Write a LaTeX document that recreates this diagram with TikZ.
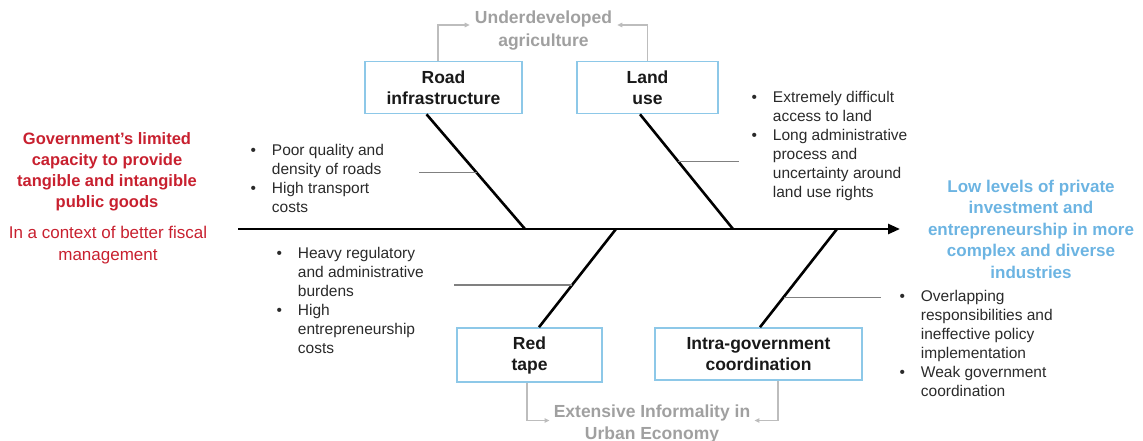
\documentclass[tikz,border=0pt]{standalone}
\usepackage{fontspec}
\setmainfont{Liberation Sans}
\usetikzlibrary{arrows.meta}
\definecolor{govred}{HTML}{C8202F}
\definecolor{outblue}{HTML}{6CB4E2}
\definecolor{boxblue}{HTML}{8DC8E8}
\definecolor{linkgray}{HTML}{BDBDBD}
\definecolor{txtgray}{HTML}{A0A0A0}
\definecolor{bulgray}{HTML}{2A2A2A}
\newcommand{\bulletlist}[1]{\begin{tabular}{@{}l@{\hspace{16pt}}l@{}}#1\end{tabular}}
\begin{document}
\begin{tikzpicture}[x=1pt,y=-1pt,
  cause/.style={draw=boxblue, line width=1.6pt, fill=white, align=center, inner sep=0pt, minimum height=52pt, font=\fontsize{17.5}{21}\selectfont\bfseries, text=black!90},
  bone/.style={line width=2.6pt},
  twig/.style={draw=gray, line width=1.1pt},
  link/.style={draw=linkgray, line width=1.2pt, -{Triangle[length=5pt,width=4.5pt]}},
  effect/.style={align=center, inner sep=0pt, font=\fontsize{17.5}{23}\selectfont\bfseries, text=txtgray},
  bullets/.style={anchor=north west, inner sep=0pt, font=\fontsize{15.5}{19}\selectfont, text=bulgray}]
\useasboundingbox (0,0) rectangle (1143,441);
\coordinate (tail) at (238,229);
\coordinate (head) at (900,229);
\draw[line width=2.6pt, -{Triangle[length=12pt,width=10pt]}] (tail) -- (head);
\node[cause, minimum width=157pt] (road) at (443.5,87.5) {Road\\infrastructure};
\node[cause, minimum width=141pt] (land) at (647.5,87.5) {Land\\use};
\node[cause, minimum width=145pt, minimum height=54pt] (redtape) at (529.5,355) {Red\\tape};
\node[cause, minimum width=207pt] (intra) at (758.5,354) {Intra-government\\coordination};
\coordinate (jroad) at (525,229);
\coordinate (jland) at (733,229);
\coordinate (jred) at (616,229);
\coordinate (jintra) at (837,229);
\draw[bone] ([xshift=-17pt]road.south) -- coordinate[pos=0.51] (troad) (jroad);
\draw[bone] ([xshift=-7.5pt]land.south) -- coordinate[pos=0.41] (tland) (jland);
\draw[bone] ([xshift=9.5pt]redtape.north) -- coordinate[pos=0.43] (tred) (jred);
\draw[bone] ([xshift=1.5pt]intra.north) -- coordinate[pos=0.306] (tintra) (jintra);
\draw[twig] (troad) -- ++(-58,0);
\draw[twig] (tland) -- ++(61,0);
\draw[twig] (tred) -- ++(-118,0);
\draw[twig] (tintra) -- ++(97,0);
\node[effect, inner xsep=5pt] (agri) at (543.5,31) {Underdeveloped\\agriculture};
\draw[link] ([xshift=-5.5pt]road.north) |- ([yshift=6pt]agri.west);
\draw[link] (land.north) |- ([yshift=6pt]agri.east);
\node[effect, inner xsep=4pt, font=\fontsize{17.5}{22}\selectfont\bfseries] (informal) at (652,423.5) {Extensive Informality in\\Urban Economy};
\draw[link] ([xshift=-2.5pt]redtape.south) |- ([yshift=3pt]informal.west);
\draw[link] ([xshift=19.5pt]intra.south) |- ([yshift=3pt]informal.east);
\node[align=center, text=govred, font=\fontsize{16.5}{21}\selectfont\bfseries] (gov) at (107,171.5) {Government’s limited\\capacity to provide\\tangible and intangible\\public goods};
\node[align=center, text=govred, font=\fontsize{17}{22}\selectfont] (fiscal) at (108,245.5) {In a context of better fiscal\\management};
\node[align=center, text=outblue, font=\fontsize{17}{21.5}\selectfont\bfseries] (outcome) at (1031,229) {Low levels of private\\investment and\\entrepreneurship in more\\complex and diverse\\industries};
\node[bullets] (roadlist) at (250.3,141.7) {\bulletlist{\textbullet & Poor quality and\\ & density of roads\\ \textbullet & High transport\\ & costs}};
\node[bullets] (landlist) at (751.3,88.7) {\bulletlist{\textbullet & Extremely difficult\\ & access to land\\ \textbullet & Long administrative\\ & process and\\ & uncertainty around\\ & land use rights}};
\node[bullets] (redlist) at (276.3,244.7) {\bulletlist{\textbullet & Heavy regulatory\\ & and administrative\\ & burdens\\ \textbullet & High\\ & entrepreneurship\\ & costs}};
\node[bullets] (intralist) at (899.3,287.7) {\bulletlist{\textbullet & Overlapping\\ & responsibilities and\\ & ineffective policy\\ & implementation\\ \textbullet & Weak government\\ & coordination}};
\end{tikzpicture}
\end{document}
